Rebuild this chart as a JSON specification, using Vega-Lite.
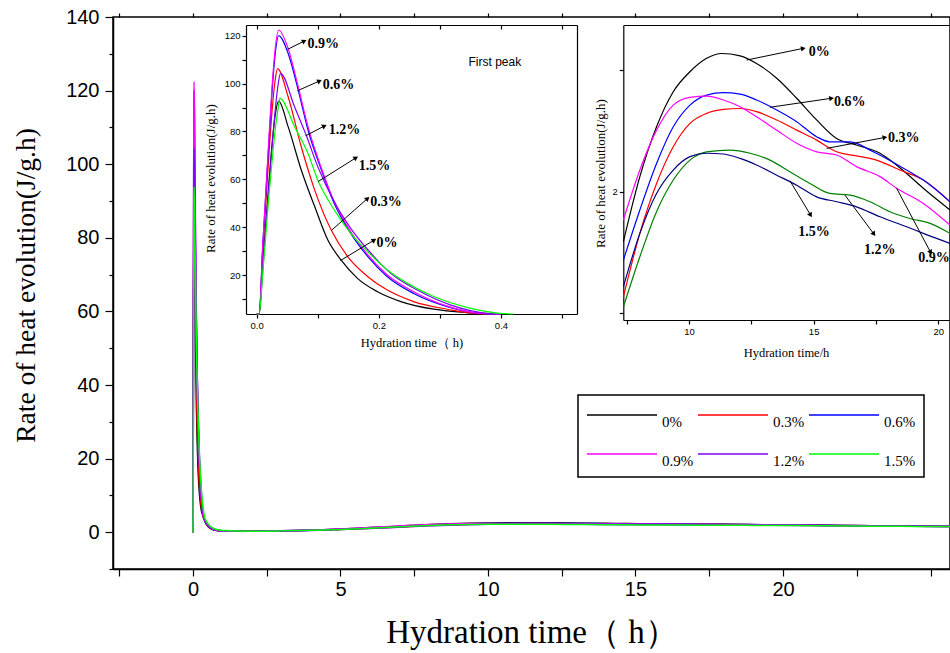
{
  "$schema": "https://vega.github.io/schema/vega-lite/v6.json",
  "width": 837,
  "height": 552,
  "autosize": {"type": "none"},
  "padding": {"left": 113, "top": 17, "right": 0, "bottom": 84},
  "background": "white",
  "datasets": {
    "curves": [
      {"series":"0%","t":0,"rate":0},{"series":"0%","t":0.004,"rate":2.8},{"series":"0%","t":0.01,"rate":25},{"series":"0%","t":0.015,"rate":41.7},{"series":"0%","t":0.02,"rate":58.4},{"series":"0%","t":0.025,"rate":74.2},{"series":"0%","t":0.03,"rate":86.2},{"series":"0%","t":0.036,"rate":92.7},{"series":"0%","t":0.0515,"rate":82},{"series":"0%","t":0.073,"rate":63.9},{"series":"0%","t":0.095,"rate":48.6},{"series":"0%","t":0.1165,"rate":34.6},{"series":"0%","t":0.138,"rate":26.3},{"series":"0%","t":0.165,"rate":18.6},{"series":"0%","t":0.198,"rate":13.0},{"series":"0%","t":0.236,"rate":8.9},{"series":"0%","t":0.29,"rate":5.7},{"series":"0%","t":0.344,"rate":4.3},{"series":"0%","t":0.4,"rate":3.0},{"series":"0%","t":0.5,"rate":1.6},{"series":"0%","t":0.7,"rate":0.6},{"series":"0%","t":1,"rate":0.3},{"series":"0%","t":1.5,"rate":0.25},{"series":"0%","t":2,"rate":0.28},{"series":"0%","t":3,"rate":0.38},{"series":"0%","t":4,"rate":0.55},{"series":"0%","t":5,"rate":0.85},{"series":"0%","t":6,"rate":1.25},{"series":"0%","t":7,"rate":1.65},{"series":"0%","t":7.37,"rate":1.795},{"series":"0%","t":8.03,"rate":2.062},{"series":"0%","t":8.7,"rate":2.267},{"series":"0%","t":9.37,"rate":2.411},{"series":"0%","t":10.04,"rate":2.493},{"series":"0%","t":10.71,"rate":2.548},{"series":"0%","t":11.31,"rate":2.568},{"series":"0%","t":12.05,"rate":2.558},{"series":"0%","t":12.71,"rate":2.527},{"series":"0%","t":13.52,"rate":2.466},{"series":"0%","t":14.32,"rate":2.384},{"series":"0%","t":15.12,"rate":2.295},{"series":"0%","t":15.92,"rate":2.219},{"series":"0%","t":16.72,"rate":2.192},{"series":"0%","t":17.66,"rate":2.158},{"series":"0%","t":18.73,"rate":2.075},{"series":"0%","t":19.4,"rate":2.014},{"series":"0%","t":20.47,"rate":1.925},{"series":"0%","t":21,"rate":1.88},{"series":"0%","t":22,"rate":1.8},{"series":"0%","t":23,"rate":1.72},{"series":"0%","t":24,"rate":1.65},{"series":"0%","t":25,"rate":1.59},{"series":"0%","t":26,"rate":1.53},
      {"series":"0.3%","t":0,"rate":0},{"series":"0.3%","t":0.004,"rate":3.2},{"series":"0.3%","t":0.01,"rate":30},{"series":"0.3%","t":0.015,"rate":50},{"series":"0.3%","t":0.02,"rate":70},{"series":"0.3%","t":0.025,"rate":88},{"series":"0.3%","t":0.03,"rate":101},{"series":"0.3%","t":0.034,"rate":106.3},{"series":"0.3%","t":0.0515,"rate":94.5},{"series":"0.3%","t":0.073,"rate":73.6},{"series":"0.3%","t":0.095,"rate":55.5},{"series":"0.3%","t":0.122,"rate":38.8},{"series":"0.3%","t":0.149,"rate":27.7},{"series":"0.3%","t":0.182,"rate":19.3},{"series":"0.3%","t":0.214,"rate":13.7},{"series":"0.3%","t":0.257,"rate":8.9},{"series":"0.3%","t":0.312,"rate":5.7},{"series":"0.3%","t":0.355,"rate":4.0},{"series":"0.3%","t":0.4,"rate":3.2},{"series":"0.3%","t":0.5,"rate":1.8},{"series":"0.3%","t":0.7,"rate":0.7},{"series":"0.3%","t":1,"rate":0.35},{"series":"0.3%","t":1.5,"rate":0.27},{"series":"0.3%","t":2,"rate":0.28},{"series":"0.3%","t":3,"rate":0.36},{"series":"0.3%","t":4,"rate":0.5},{"series":"0.3%","t":5,"rate":0.75},{"series":"0.3%","t":6,"rate":1.05},{"series":"0.3%","t":7,"rate":1.4},{"series":"0.3%","t":7.37,"rate":1.568},{"series":"0.3%","t":8.03,"rate":1.829},{"series":"0.3%","t":8.7,"rate":2.034},{"series":"0.3%","t":9.37,"rate":2.185},{"series":"0.3%","t":10.04,"rate":2.281},{"series":"0.3%","t":10.71,"rate":2.322},{"series":"0.3%","t":11.38,"rate":2.338},{"series":"0.3%","t":12.05,"rate":2.342},{"series":"0.3%","t":12.71,"rate":2.329},{"series":"0.3%","t":13.52,"rate":2.295},{"series":"0.3%","t":14.32,"rate":2.253},{"series":"0.3%","t":15.12,"rate":2.212},{"series":"0.3%","t":15.92,"rate":2.164},{"series":"0.3%","t":16.72,"rate":2.147},{"series":"0.3%","t":17.52,"rate":2.13},{"series":"0.3%","t":18.46,"rate":2.089},{"series":"0.3%","t":19.4,"rate":2.048},{"series":"0.3%","t":20.47,"rate":1.959},{"series":"0.3%","t":21,"rate":1.92},{"series":"0.3%","t":22,"rate":1.84},{"series":"0.3%","t":23,"rate":1.76},{"series":"0.3%","t":24,"rate":1.69},{"series":"0.3%","t":25,"rate":1.63},{"series":"0.3%","t":26,"rate":1.57},
      {"series":"0.6%","t":0,"rate":0},{"series":"0.6%","t":0.004,"rate":3.6},{"series":"0.6%","t":0.01,"rate":32.4},{"series":"0.6%","t":0.015,"rate":54},{"series":"0.6%","t":0.02,"rate":75.6},{"series":"0.6%","t":0.025,"rate":96},{"series":"0.6%","t":0.03,"rate":111.6},{"series":"0.6%","t":0.036,"rate":120},{"series":"0.6%","t":0.0515,"rate":112.6},{"series":"0.6%","t":0.068,"rate":97.3},{"series":"0.6%","t":0.084,"rate":80.6},{"series":"0.6%","t":0.106,"rate":63.9},{"series":"0.6%","t":0.127,"rate":49.9},{"series":"0.6%","t":0.154,"rate":37.4},{"series":"0.6%","t":0.182,"rate":27.7},{"series":"0.6%","t":0.214,"rate":19.3},{"series":"0.6%","t":0.257,"rate":12.3},{"series":"0.6%","t":0.312,"rate":6.8},{"series":"0.6%","t":0.366,"rate":4.0},{"series":"0.6%","t":0.4,"rate":3.3},{"series":"0.6%","t":0.5,"rate":1.9},{"series":"0.6%","t":0.7,"rate":0.75},{"series":"0.6%","t":1,"rate":0.35},{"series":"0.6%","t":1.5,"rate":0.27},{"series":"0.6%","t":2,"rate":0.28},{"series":"0.6%","t":3,"rate":0.37},{"series":"0.6%","t":4,"rate":0.52},{"series":"0.6%","t":5,"rate":0.8},{"series":"0.6%","t":6,"rate":1.15},{"series":"0.6%","t":7,"rate":1.55},{"series":"0.6%","t":7.37,"rate":1.719},{"series":"0.6%","t":8.03,"rate":1.925},{"series":"0.6%","t":8.7,"rate":2.116},{"series":"0.6%","t":9.37,"rate":2.267},{"series":"0.6%","t":10.04,"rate":2.356},{"series":"0.6%","t":10.71,"rate":2.397},{"series":"0.6%","t":11.38,"rate":2.407},{"series":"0.6%","t":12.05,"rate":2.401},{"series":"0.6%","t":12.71,"rate":2.377},{"series":"0.6%","t":13.52,"rate":2.336},{"series":"0.6%","t":14.32,"rate":2.288},{"series":"0.6%","t":15.12,"rate":2.226},{"series":"0.6%","t":15.65,"rate":2.205},{"series":"0.6%","t":16.46,"rate":2.205},{"series":"0.6%","t":17.39,"rate":2.164},{"series":"0.6%","t":18.73,"rate":2.089},{"series":"0.6%","t":19.4,"rate":2.048},{"series":"0.6%","t":20.47,"rate":1.959},{"series":"0.6%","t":21,"rate":1.92},{"series":"0.6%","t":22,"rate":1.84},{"series":"0.6%","t":23,"rate":1.77},{"series":"0.6%","t":24,"rate":1.7},{"series":"0.6%","t":25,"rate":1.64},{"series":"0.6%","t":26,"rate":1.58},
      {"series":"0.9%","t":0,"rate":0},{"series":"0.9%","t":0.004,"rate":3.7},{"series":"0.9%","t":0.01,"rate":33},{"series":"0.9%","t":0.015,"rate":55},{"series":"0.9%","t":0.02,"rate":77},{"series":"0.9%","t":0.025,"rate":98},{"series":"0.9%","t":0.03,"rate":113.8},{"series":"0.9%","t":0.036,"rate":122.4},{"series":"0.9%","t":0.0504,"rate":115.5},{"series":"0.9%","t":0.068,"rate":98.7},{"series":"0.9%","t":0.084,"rate":82},{"series":"0.9%","t":0.106,"rate":64.6},{"series":"0.9%","t":0.127,"rate":50.6},{"series":"0.9%","t":0.154,"rate":38.1},{"series":"0.9%","t":0.182,"rate":28.4},{"series":"0.9%","t":0.214,"rate":20},{"series":"0.9%","t":0.257,"rate":13},{"series":"0.9%","t":0.312,"rate":7},{"series":"0.9%","t":0.366,"rate":4},{"series":"0.9%","t":0.4,"rate":3.3},{"series":"0.9%","t":0.5,"rate":1.9},{"series":"0.9%","t":0.7,"rate":0.75},{"series":"0.9%","t":1,"rate":0.35},{"series":"0.9%","t":1.5,"rate":0.27},{"series":"0.9%","t":2,"rate":0.28},{"series":"0.9%","t":3,"rate":0.38},{"series":"0.9%","t":4,"rate":0.55},{"series":"0.9%","t":5,"rate":0.85},{"series":"0.9%","t":6,"rate":1.25},{"series":"0.9%","t":7,"rate":1.7},{"series":"0.9%","t":7.37,"rate":1.884},{"series":"0.9%","t":8.03,"rate":2.089},{"series":"0.9%","t":8.7,"rate":2.253},{"series":"0.9%","t":9.37,"rate":2.356},{"series":"0.9%","t":10.04,"rate":2.388},{"series":"0.9%","t":10.71,"rate":2.393},{"series":"0.9%","t":11.38,"rate":2.377},{"series":"0.9%","t":12.05,"rate":2.349},{"series":"0.9%","t":12.71,"rate":2.308},{"series":"0.9%","t":13.52,"rate":2.253},{"series":"0.9%","t":14.32,"rate":2.199},{"series":"0.9%","t":15.12,"rate":2.164},{"series":"0.9%","t":15.92,"rate":2.151},{"series":"0.9%","t":16.72,"rate":2.103},{"series":"0.9%","t":17.66,"rate":2.062},{"series":"0.9%","t":18.33,"rate":2.014},{"series":"0.9%","t":19.4,"rate":1.952},{"series":"0.9%","t":20.47,"rate":1.863},{"series":"0.9%","t":21,"rate":1.82},{"series":"0.9%","t":22,"rate":1.75},{"series":"0.9%","t":23,"rate":1.68},{"series":"0.9%","t":24,"rate":1.62},{"series":"0.9%","t":25,"rate":1.56},{"series":"0.9%","t":26,"rate":1.51},
      {"series":"1.2%","t":0,"rate":0},{"series":"1.2%","t":0.004,"rate":2.6},{"series":"1.2%","t":0.01,"rate":22},{"series":"1.2%","t":0.015,"rate":40},{"series":"1.2%","t":0.02,"rate":57},{"series":"1.2%","t":0.025,"rate":73},{"series":"1.2%","t":0.03,"rate":88},{"series":"1.2%","t":0.035,"rate":99.5},{"series":"1.2%","t":0.039,"rate":104.3},{"series":"1.2%","t":0.062,"rate":90.3},{"series":"1.2%","t":0.081,"rate":78.5},{"series":"1.2%","t":0.1,"rate":65.3},{"series":"1.2%","t":0.127,"rate":50.6},{"series":"1.2%","t":0.154,"rate":39.5},{"series":"1.2%","t":0.187,"rate":29.1},{"series":"1.2%","t":0.2195,"rate":20.7},{"series":"1.2%","t":0.263,"rate":13.7},{"series":"1.2%","t":0.317,"rate":7.5},{"series":"1.2%","t":0.377,"rate":4},{"series":"1.2%","t":0.4,"rate":3.5},{"series":"1.2%","t":0.5,"rate":2.1},{"series":"1.2%","t":0.7,"rate":0.85},{"series":"1.2%","t":1,"rate":0.4},{"series":"1.2%","t":1.5,"rate":0.28},{"series":"1.2%","t":2,"rate":0.28},{"series":"1.2%","t":3,"rate":0.35},{"series":"1.2%","t":4,"rate":0.48},{"series":"1.2%","t":5,"rate":0.7},{"series":"1.2%","t":6,"rate":1},{"series":"1.2%","t":7,"rate":1.36},{"series":"1.2%","t":7.37,"rate":1.527},{"series":"1.2%","t":8.03,"rate":1.733},{"series":"1.2%","t":8.7,"rate":1.918},{"series":"1.2%","t":9.37,"rate":2.048},{"series":"1.2%","t":10.04,"rate":2.13},{"series":"1.2%","t":10.71,"rate":2.164},{"series":"1.2%","t":11.64,"rate":2.171},{"series":"1.2%","t":12.45,"rate":2.158},{"series":"1.2%","t":13.25,"rate":2.13},{"series":"1.2%","t":14.05,"rate":2.082},{"series":"1.2%","t":14.85,"rate":2.034},{"series":"1.2%","t":15.65,"rate":1.993},{"series":"1.2%","t":16.46,"rate":1.986},{"series":"1.2%","t":17.26,"rate":1.959},{"series":"1.2%","t":18.06,"rate":1.918},{"series":"1.2%","t":18.86,"rate":1.89},{"series":"1.2%","t":19.67,"rate":1.87},{"series":"1.2%","t":20.47,"rate":1.829},{"series":"1.2%","t":21,"rate":1.8},{"series":"1.2%","t":22,"rate":1.74},{"series":"1.2%","t":23,"rate":1.68},{"series":"1.2%","t":24,"rate":1.63},{"series":"1.2%","t":25,"rate":1.58},{"series":"1.2%","t":26,"rate":1.54},
      {"series":"1.5%","t":0,"rate":0},{"series":"1.5%","t":0.004,"rate":2.5},{"series":"1.5%","t":0.01,"rate":21},{"series":"1.5%","t":0.015,"rate":37},{"series":"1.5%","t":0.02,"rate":53},{"series":"1.5%","t":0.025,"rate":67},{"series":"1.5%","t":0.03,"rate":80},{"series":"1.5%","t":0.035,"rate":89.5},{"series":"1.5%","t":0.038,"rate":93.8},{"series":"1.5%","t":0.062,"rate":82},{"series":"1.5%","t":0.084,"rate":70.8},{"series":"1.5%","t":0.1,"rate":59.7},{"series":"1.5%","t":0.127,"rate":47.2},{"series":"1.5%","t":0.154,"rate":37.4},{"series":"1.5%","t":0.182,"rate":29.7},{"series":"1.5%","t":0.214,"rate":22.1},{"series":"1.5%","t":0.247,"rate":16.5},{"series":"1.5%","t":0.29,"rate":11},{"series":"1.5%","t":0.344,"rate":6.5},{"series":"1.5%","t":0.398,"rate":4},{"series":"1.5%","t":0.42,"rate":3.5},{"series":"1.5%","t":0.5,"rate":2.4},{"series":"1.5%","t":0.7,"rate":1},{"series":"1.5%","t":1,"rate":0.45},{"series":"1.5%","t":1.5,"rate":0.3},{"series":"1.5%","t":2,"rate":0.28},{"series":"1.5%","t":3,"rate":0.36},{"series":"1.5%","t":4,"rate":0.5},{"series":"1.5%","t":5,"rate":0.75},{"series":"1.5%","t":6,"rate":1.05},{"series":"1.5%","t":7,"rate":1.45},{"series":"1.5%","t":7.37,"rate":1.61},{"series":"1.5%","t":8.03,"rate":1.829},{"series":"1.5%","t":8.7,"rate":1.993},{"series":"1.5%","t":9.37,"rate":2.089},{"series":"1.5%","t":10.04,"rate":2.144},{"series":"1.5%","t":10.71,"rate":2.158},{"series":"1.5%","t":11.38,"rate":2.155},{"series":"1.5%","t":12.05,"rate":2.137},{"series":"1.5%","t":12.71,"rate":2.11},{"series":"1.5%","t":13.52,"rate":2.068},{"series":"1.5%","t":14.32,"rate":2.027},{"series":"1.5%","t":15.12,"rate":1.979},{"series":"1.5%","t":15.92,"rate":1.959},{"series":"1.5%","t":16.72,"rate":1.938},{"series":"1.5%","t":17.66,"rate":1.897},{"series":"1.5%","t":18.73,"rate":1.856},{"series":"1.5%","t":19.4,"rate":1.829},{"series":"1.5%","t":20.47,"rate":1.788},{"series":"1.5%","t":21,"rate":1.76},{"series":"1.5%","t":22,"rate":1.7},{"series":"1.5%","t":23,"rate":1.65},{"series":"1.5%","t":24,"rate":1.6},{"series":"1.5%","t":25,"rate":1.55},{"series":"1.5%","t":26,"rate":1.51}
    ],
    "notes1": [
      {"label":"0.9%","t":0.083,"rate":116.5,"t1":0.0504,"r1":114.3,"t2":0.078,"r2":117.8,"dir":-26.6},
      {"label":"0.6%","t":0.108,"rate":99.4,"t1":0.0667,"r1":97.0,"t2":0.103,"r2":101.1,"dir":-23.4},
      {"label":"1.2%","t":0.118,"rate":80.6,"t1":0.0802,"r1":78.2,"t2":0.111,"r2":82.3,"dir":-27},
      {"label":"1.5%","t":0.167,"rate":65.7,"t1":0.1003,"r1":59.0,"t2":0.1626,"r2":69.0,"dir":-32},
      {"label":"0.3%","t":0.186,"rate":50.6,"t1":0.123,"r1":38.8,"t2":0.1816,"r2":52.0,"dir":-41},
      {"label":"0%","t":0.196,"rate":33.5,"t1":0.137,"r1":26.0,"t2":0.1924,"r2":34.6,"dir":-31}
    ],
    "notes2": [
      {"label":"0%","t":14.8,"rate":2.575,"t1":12.313,"r1":2.541,"t2":14.586,"r2":2.589,"dir":-11.6},
      {"label":"0.6%","t":15.82,"rate":2.37,"t1":13.249,"r1":2.347,"t2":15.72,"r2":2.384,"dir":-8.3},
      {"label":"0.3%","t":17.98,"rate":2.222,"t1":15.521,"r1":2.178,"t2":17.86,"r2":2.223,"dir":-10.7},
      {"label":"1.5%","t":14.385,"rate":1.836,"t1":14.05,"r1":2.045,"t2":14.88,"r2":1.904,"dir":58.9},
      {"label":"1.2%","t":17.019,"rate":1.76,"t1":16.257,"r1":1.986,"t2":17.42,"r2":1.826,"dir":53.4},
      {"label":"0.9%","t":19.198,"rate":1.726,"t1":18.329,"r1":2.014,"t2":19.693,"r2":1.751,"dir":62}
    ],
    "tag1": [{"text":"First peak","t":0.39,"rate":109}]
  },
  "layer": [
    {
      "layer": [
        {
          "data": {"name": "curves"},
          "mark": {"type": "line", "strokeWidth": 1.5, "interpolate": "monotone", "clip": true},
          "encoding": {
            "x": {"field": "t", "type": "quantitative",
              "scale": {"domain": [-2.71, 25.66], "nice": false, "zero": false},
              "axis": {"orient": "bottom", "values": [-2.5,0,2.5,5,7.5,10,12.5,15,17.5,20,22.5,25], "format": "d",
                "labelExpr": "datum.value % 5 === 0 && datum.value < 24 ? datum.label : ''",
                "tickSize": 7, "labelFontSize": 20, "labelPadding": 3, "labelFlush": false,
                "title": "Hydration time（  h）", "titleFontSize": 33, "titleY": 63, "titleBaseline": "middle"}},
            "y": {"field": "rate", "type": "quantitative",
              "scale": {"domain": [-10, 140], "nice": false, "zero": false},
              "axis": {"orient": "left", "values": [0,20,40,60,80,100,120,140],
                "tickSize": 8, "labelFontSize": 20, "labelPadding": 6, "labelFlush": false,
                "title": "Rate of heat evolution(J/g.h)", "titleFontSize": 27.5, "titleX": -87, "titleY": 268,
                "titleAngle": 270, "titleAlign": "center", "titleBaseline": "middle"}},
            "color": {"field": "series", "type": "nominal",
              "scale": {"domain": ["0%","0.3%","0.6%","0.9%","1.2%","1.5%"], "range": ["#000000","#ff0000","#0000ff","#ff00ff","#8000ff","#00ff00"]},
              "legend": {"orient": "none", "legendX": 465, "legendY": 378, "direction": "horizontal", "columns": 3,
                "title": null, "symbolType": "stroke", "symbolSize": 4900, "symbolStrokeWidth": 1.5,
                "labelFont": "Liberation Serif", "labelFontSize": 15, "labelColor": "black", "labelBaseline": "top",
                "labelOffset": 4, "labelLimit": 0, "columnPadding": 3, "rowPadding": 12, "padding": 8,
                "strokeColor": "black", "fillColor": "white", "clipHeight": 24}}
          }
        },
        {
          "data": {"name": "curves"},
          "mark": {"type": "point", "opacity": 0},
          "encoding": {
            "x": {"field": "t", "type": "quantitative",
              "axis": {"orient": "top", "values": [-2.5,0,2.5,5,7.5,10,12.5,15,17.5,20,22.5,25], "tickSize": 4, "labels": false, "domain": false, "title": null}},
            "y": {"field": "rate", "type": "quantitative",
              "axis": {"orient": "left", "values": [-10,10,30,50,70,90,110,130], "tickSize": 4, "labels": false, "domain": false, "title": null}}
          }
        }
      ],
      "resolve": {"axis": {"x": "independent", "y": "independent"}}
    },
    {
      "layer": [
        {
          "data": {"name": "curves"},
          "transform": [{"filter": "datum.t <= 0.45"}],
          "mark": {"type": "line", "strokeWidth": 1.2, "interpolate": "monotone"},
          "encoding": {
            "x": {"field": "t", "type": "quantitative",
              "scale": {"domain": [-0.0175, 0.5245], "range": [133, 464], "clamp": true, "nice": false, "zero": false},
              "axis": {"orient": "bottom", "offset": -255, "values": [0,0.1,0.2,0.3,0.4,0.5], "format": ".1f",
                "labelExpr": "indexof(['0.0','0.2','0.4'], datum.label) >= 0 ? datum.label : ''",
                "tickSize": 4, "labelFontSize": 9.5, "labelPadding": 2, "labelFlush": false, "domainWidth": 1.2,
                "title": "Hydration time（ h)", "titleFontSize": 12.5, "titleX": 298.5, "titleY": 28, "titleBaseline": "middle"}},
            "y": {"field": "rate", "type": "quantitative",
              "scale": {"domain": [3.7, 124.5], "range": [297, 8], "clamp": true, "nice": false, "zero": false},
              "axis": {"orient": "left", "offset": -133, "values": [10,20,30,40,50,60,70,80,90,100,110,120],
                "labelExpr": "datum.value % 20 === 0 ? datum.label : ''",
                "tickSize": 4, "labelFontSize": 9.5, "labelPadding": 2, "labelFlush": false, "domainWidth": 1.2,
                "title": "Rate of heat evolution(J/g.h)", "titleFontSize": 13, "titleX": -36, "titleY": 161,
                "titleAngle": 270, "titleAlign": "center", "titleBaseline": "middle"}},
            "color": {"field": "series", "type": "nominal",
              "scale": {"domain": ["0%","0.3%","0.6%","0.9%","1.2%","1.5%"], "range": ["#000000","#ff0000","#0000ff","#ff00ff","#8000ff","#00ff00"]},
              "legend": null}
          }
        },
        {
          "data": {"name": "curves"},
          "transform": [{"filter": "datum.t <= 0.45"}],
          "mark": {"type": "point", "opacity": 0},
          "encoding": {
            "x": {"field": "t", "type": "quantitative",
              "axis": {"orient": "top", "offset": -8, "values": [0,0.1,0.2,0.3,0.4,0.5], "tickSize": -4, "labels": false, "domainWidth": 1.2, "title": null}},
            "y": {"field": "rate", "type": "quantitative",
              "axis": {"orient": "right", "offset": -373, "ticks": false, "labels": false, "domainWidth": 1.2, "title": null}}
          }
        },
        {
          "data": {"name": "notes1"},
          "mark": {"type": "rule", "strokeWidth": 1, "color": "black"},
          "encoding": {
            "x": {"field": "t1", "type": "quantitative", "axis": null},
            "x2": {"field": "t2"},
            "y": {"field": "r1", "type": "quantitative", "axis": null},
            "y2": {"field": "r2"}
          }
        },
        {
          "data": {"name": "notes1"},
          "mark": {"type": "point", "shape": "triangle-right", "filled": true, "color": "black", "size": 30, "opacity": 1},
          "encoding": {
            "x": {"field": "t2", "type": "quantitative", "axis": null},
            "y": {"field": "r2", "type": "quantitative", "axis": null},
            "angle": {"field": "dir", "type": "quantitative", "scale": null}
          }
        },
        {
          "data": {"name": "notes1"},
          "mark": {"type": "text", "font": "Liberation Serif", "fontWeight": "bold", "fontSize": 14, "align": "left", "baseline": "middle", "color": "black"},
          "encoding": {
            "x": {"field": "t", "type": "quantitative", "axis": null},
            "y": {"field": "rate", "type": "quantitative", "axis": null},
            "text": {"field": "label"}
          }
        },
        {
          "data": {"name": "tag1"},
          "mark": {"type": "text", "font": "Liberation Sans", "fontSize": 12, "align": "center", "baseline": "middle", "color": "black"},
          "encoding": {
            "x": {"field": "t", "type": "quantitative", "axis": null},
            "y": {"field": "rate", "type": "quantitative", "axis": null},
            "text": {"field": "text"}
          }
        }
      ],
      "resolve": {"axis": {"x": "independent", "y": "independent"}}
    },
    {
      "layer": [
        {
          "data": {"name": "curves"},
          "transform": [{"filter": "datum.t >= 7.36 && datum.t <= 20.5"}],
          "mark": {"type": "line", "strokeWidth": 1.2, "interpolate": "monotone"},
          "encoding": {
            "x": {"field": "t", "type": "quantitative",
              "scale": {"domain": [7.366, 20.47], "range": [510.3, 837], "clamp": true, "nice": false, "zero": false},
              "axis": {"orient": "bottom", "offset": -249, "values": [7.5,10,12.5,15,17.5,20], "format": "d",
                "labelExpr": "datum.value % 5 === 0 ? datum.label : ''",
                "tickSize": 4, "labelFontSize": 9.5, "labelPadding": 2, "labelFlush": false, "domainWidth": 1.2,
                "title": "Hydration time/h", "titleFontSize": 12.5, "titleX": 673, "titleY": 32, "titleBaseline": "middle"}},
            "y": {"field": "rate", "type": "quantitative",
              "scale": {"domain": [1.473, 2.685], "range": [303, 8], "clamp": true, "nice": false, "zero": false},
              "axis": {"orient": "left", "offset": -510.3, "values": [1.5,2,2.5],
                "labelExpr": "datum.value === 2 ? '2' : ''",
                "tickSize": 4, "labelFontSize": 9.5, "labelPadding": 2, "labelFlush": false, "domainWidth": 1.2,
                "title": "Rate of heat evolution(J/g.h)", "titleFontSize": 13, "titleX": -23, "titleY": 156,
                "titleAngle": 270, "titleAlign": "center", "titleBaseline": "middle"}},
            "color": {"field": "series", "type": "nominal",
              "scale": {"domain": ["0%","0.3%","0.6%","0.9%","1.2%","1.5%"], "range": ["#000000","#ff0000","#0000ff","#ff00ff","#008000","#000080"]},
              "legend": null}
          }
        },
        {
          "data": {"name": "curves"},
          "transform": [{"filter": "datum.t >= 7.36 && datum.t <= 20.5"}],
          "mark": {"type": "point", "opacity": 0},
          "encoding": {
            "x": {"field": "t", "type": "quantitative",
              "axis": {"orient": "top", "offset": -8, "ticks": false, "labels": false, "domainWidth": 1.2, "title": null}},
            "y": {"field": "rate", "type": "quantitative", "axis": null}
          }
        },
        {
          "data": {"name": "notes2"},
          "mark": {"type": "rule", "strokeWidth": 1, "color": "black"},
          "encoding": {
            "x": {"field": "t1", "type": "quantitative", "axis": null},
            "x2": {"field": "t2"},
            "y": {"field": "r1", "type": "quantitative", "axis": null},
            "y2": {"field": "r2"}
          }
        },
        {
          "data": {"name": "notes2"},
          "mark": {"type": "point", "shape": "triangle-right", "filled": true, "color": "black", "size": 30, "opacity": 1},
          "encoding": {
            "x": {"field": "t2", "type": "quantitative", "axis": null},
            "y": {"field": "r2", "type": "quantitative", "axis": null},
            "angle": {"field": "dir", "type": "quantitative", "scale": null}
          }
        },
        {
          "data": {"name": "notes2"},
          "mark": {"type": "text", "font": "Liberation Serif", "fontWeight": "bold", "fontSize": 14, "align": "left", "baseline": "middle", "color": "black"},
          "encoding": {
            "x": {"field": "t", "type": "quantitative", "axis": null},
            "y": {"field": "rate", "type": "quantitative", "axis": null},
            "text": {"field": "label"}
          }
        }
      ],
      "resolve": {"axis": {"x": "independent", "y": "independent"}}
    }
  ],
  "resolve": {
    "scale": {"x": "independent", "y": "independent", "color": "independent"},
    "axis": {"x": "independent", "y": "independent"},
    "legend": {"color": "independent"}
  },
  "config": {
    "view": {"stroke": "black", "strokeWidth": 1.5},
    "legend": {"strokeWidth": 1.5},
    "axis": {"grid": false, "domainColor": "black", "tickColor": "black", "labelColor": "black", "titleColor": "black",
      "labelFont": "Liberation Sans", "titleFont": "Liberation Serif", "titleFontWeight": "normal",
      "domainWidth": 1.5, "tickWidth": 1.2}
  }
}
